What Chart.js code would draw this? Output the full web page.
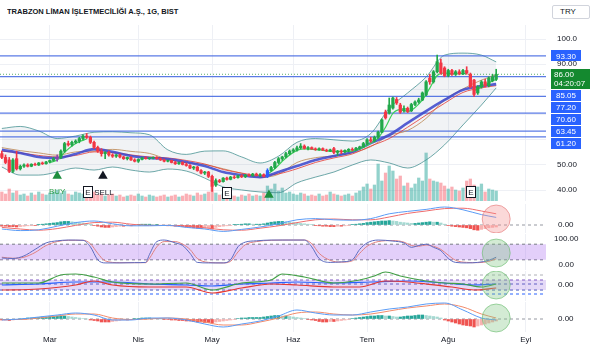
<!DOCTYPE html>
<html><head><meta charset="utf-8">
<script src="https://cdn.jsdelivr.net/npm/chart.js@4.4.1/dist/chart.umd.min.js"></script>
<style>
html,body{margin:0;padding:0;background:#fff;width:593px;height:350px;overflow:hidden;font-family:"Liberation Sans",Arial,sans-serif}
canvas{position:absolute;left:0}
#title{position:absolute;left:7px;top:7px;font-weight:bold;font-size:8px;line-height:10px;color:#131722;white-space:nowrap;transform-origin:0 50%;display:inline-block}
#cur{position:absolute;left:552px;top:5px;width:38px;height:14px;border:1px solid #d1d4dc;border-radius:2px;font-size:8px;line-height:12px;color:#131722;box-sizing:border-box;padding-left:7px}
</style></head><body>
<div id="title"></div>
<div id="cur"></div>
<canvas id="c0" width="593" height="176" style="top:25px"></canvas>
<canvas id="c1" width="593" height="29" style="top:204px"></canvas>
<canvas id="c2" width="593" height="36" style="top:234px"></canvas>
<canvas id="c3" width="593" height="30" style="top:271px"></canvas>
<canvas id="c4" width="593" height="48" style="top:302px"></canvas>
<script>
const titleText = 'TRABZON LİMAN İŞLETMECİLİĞİ A.Ş., 1G, BIST';
const currency = 'TRY';
const monthTickIdx = [13,37,57,79,99,121,142];
const monthLabels = ['Mar','Nis','May','Haz','Tem','Ağu','Eyl'];

const open = [54.5,53.0,52.0,47.5,52.5,48.5,49.5,50.0,49.5,50.3,
50.0,50.8,50.5,51.2,51.8,52.5,53.0,55.5,58.5,58.0,
59.0,59.5,60.5,61.5,61.0,59.0,57.0,55.5,54.5,55.0,
54.0,53.5,54.0,53.2,52.5,53.0,52.0,51.5,52.2,52.8,
52.5,52.8,53.0,52.5,52.0,51.5,51.8,51.0,50.5,51.0,
50.2,49.8,48.8,49.2,47.8,46.8,47.2,45.5,42.0,43.8,
43.4,44.8,44.3,45.2,45.0,45.7,45.3,46.0,45.8,46.4,
45.9,46.2,45.5,47.8,49.0,51.0,52.5,53.2,54.5,55.5,
56.0,56.8,57.5,56.6,56.9,56.4,56.1,56.5,55.9,55.6,
56.5,55.0,55.5,55.2,55.8,56.2,56.0,56.7,57.2,58.5,
60.0,59.5,61.0,63.0,71.0,70.6,72.6,76.0,73.8,71.5,
72.5,71.5,74.0,75.0,75.8,77.8,84.5,83.0,87.0,90.5,
88.5,85.5,87.5,86.0,87.0,86.2,87.5,86.0,83.7,78.6,
81.0,83.0,81.5,83.5,84.0];
const high = [55.5,54.0,53.0,52.5,55.5,50.0,50.5,50.5,50.5,50.8,
51.0,51.2,51.5,52.0,53.0,54.0,56.0,59.0,59.5,59.5,
60.0,61.0,62.0,62.5,61.5,59.5,57.5,56.5,55.3,55.5,
54.5,54.2,54.3,53.5,53.2,53.3,52.5,52.5,53.0,53.2,
53.0,53.2,53.3,52.8,52.3,52.0,52.0,51.5,51.2,51.3,
50.8,50.2,49.5,49.5,48.2,47.5,47.5,46.0,44.5,44.3,
45.0,45.2,45.5,45.8,46.0,46.2,46.3,46.5,46.7,46.8,
46.6,46.5,48.5,49.5,51.5,53.0,53.5,55.0,56.0,56.5,
57.5,58.5,58.0,57.3,57.2,56.8,56.8,56.8,56.3,56.3,
57.0,55.8,56.0,56.0,56.5,56.8,57.0,57.5,59.0,60.5,
61.0,61.5,63.5,68.3,71.8,76.6,77.0,76.8,74.5,73.5,
73.0,74.5,75.5,76.5,79.0,83.5,86.0,87.5,93.6,92.0,
89.0,88.0,88.0,87.5,87.8,88.0,89.0,86.5,84.0,81.5,
83.5,84.0,85.0,86.0,88.0];
const low = [52.5,50.5,47.0,47.0,48.0,48.0,49.0,49.2,49.3,49.8,
49.8,50.2,50.3,50.8,51.5,51.5,52.5,55.0,57.5,57.5,
58.5,58.8,60.0,60.5,58.5,56.5,55.0,53.5,52.5,53.5,
53.0,53.0,52.8,52.2,52.0,51.8,51.2,51.0,52.0,52.3,
52.2,52.4,52.3,51.8,51.2,51.2,50.8,50.2,50.2,50.0,
49.5,48.5,48.2,47.5,46.5,46.2,45.0,39.5,41.5,43.0,
43.2,44.0,44.1,44.6,44.8,45.0,45.0,45.5,45.5,45.6,
45.4,45.2,45.0,47.5,48.5,50.5,51.8,52.8,54.0,55.0,
55.5,56.3,56.3,56.0,56.2,55.8,55.8,55.7,55.3,55.3,
54.5,53.8,54.5,54.8,55.2,55.6,55.8,56.2,57.0,58.0,
59.0,59.2,60.5,62.8,68.2,70.2,72.2,74.0,70.5,71.0,
70.8,71.2,73.5,74.5,75.5,77.5,82.0,82.5,86.5,86.0,
85.0,85.0,85.5,85.5,85.8,85.8,86.0,80.5,77.2,78.0,
80.5,81.0,81.0,83.0,83.5];
const close = [53.0,51.0,47.5,52.0,48.5,49.5,50.0,49.5,50.3,50.0,
50.8,50.5,51.2,51.8,52.5,53.0,55.5,58.5,58.0,59.0,
59.5,60.5,61.5,61.0,59.0,57.0,55.5,54.5,55.0,54.0,
53.5,54.0,53.2,52.5,53.0,52.0,51.5,52.2,52.8,52.5,
52.8,53.0,52.5,52.0,51.5,51.8,51.0,50.5,51.0,50.2,
49.8,48.8,49.2,47.8,46.8,47.2,45.5,41.5,43.8,43.4,
44.8,44.3,45.2,45.0,45.7,45.3,46.0,45.8,46.4,45.9,
46.2,45.5,47.8,49.0,51.0,52.5,53.2,54.5,55.5,56.0,
56.8,57.5,56.6,56.9,56.4,56.1,56.5,55.9,55.6,56.0,
55.0,55.5,55.2,55.8,56.2,56.0,56.7,57.2,58.5,60.0,
59.5,61.0,63.0,67.9,68.7,73.8,76.6,74.6,71.0,72.5,
71.3,74.0,75.0,75.8,78.6,83.0,83.0,87.0,91.0,86.5,
85.5,87.5,86.0,87.0,86.2,87.5,86.5,81.0,78.0,81.0,
83.0,81.5,84.5,85.0,86.0];
const volume = [9,7,12,8,10,6,7,5,8,6,9,7,6,8,
9,11,8,10,7,6,9,8,7,10,8,9,6,7,
5,6,7,5,6,4,5,6,5,7,5,4,6,5,
4,5,6,4,5,6,4,5,7,6,5,8,6,7,
9,14,8,6,7,5,6,5,4,6,5,7,5,6,
5,8,15,12,17,10,13,8,9,7,6,8,7,5,
6,5,7,5,6,9,7,6,5,6,7,5,8,10,
14,17,12,16,37,20,28,35,30,22,25,15,18,13,
17,23,20,48,22,20,19,18,15,12,14,11,10,13,
20,22,16,14,17,9,12,11,10];
const candleTint = {15:'#8e44ad', 72:'#2962ff'};

const levels = [93.30,85.05,77.20,70.60,63.45,61.20];
const lastPrice = 86.00;
const countdown = '04:20:07';

const sampleIdx = [0,5,10,15,20,25,30,35,40,45,50,55,60,65,70,75,80,85,90,95,100,105,110,115,120,125,130,134];
const bbUpper = [64.5,65.3,63.5,60.5,61.5,63.0,63.2,62.8,62.0,56.0,54.2,55.5,55.6,53.2,50.8,53.5,59.0,60.5,60.0,59.5,62.5,72.5,78.6,84.9,93.6,94.4,93.6,90.9];
const bbLower = [49.2,46.0,46.0,47.2,48.8,48.0,49.2,48.0,47.2,48.4,47.6,44.8,41.3,40.1,39.3,39.0,42.9,45.2,47.2,50.0,52.0,50.8,48.8,52.0,58.0,65.9,73.8,80.6];
const bbBasis = [56.9,55.7,54.8,53.9,55.2,55.5,56.2,55.4,54.6,52.2,50.9,50.2,48.5,46.7,45.1,46.3,51.0,52.9,53.6,54.8,57.3,61.7,63.7,68.5,75.8,80.2,83.7,85.8];
const emaBlue = [56.0,54.8,53.2,52.8,54.4,56.3,55.2,53.6,52.8,52.4,51.2,49.6,47.2,46.0,45.2,47.2,49.6,52.0,53.6,55.2,58.7,61.9,66.7,71.4,75.8,79.8,81.3,82.1];
const maRed = [55.5,54.8,53.8,53.2,53.8,55.2,55.0,54.0,53.2,52.8,51.8,50.4,48.2,46.8,45.8,46.5,48.5,51.0,52.8,54.4,57.5,60.5,65.0,69.8,74.5,78.8,80.6,81.5];
const trendIdx = [13,15,17,19,21,23,24,72,74,76,78,80,82,86,90,94,97,100,102,104,106,108,110,112,114,116,118,120,122,124,126,127,128,130,132,134];
const trendVal = [51.0,52.0,55.0,57.5,59.3,60.3,null,46.3,48.5,51.5,54.0,55.8,56.4,56.0,55.4,55.4,56.4,58.6,60.8,65.0,70.5,72.0,71.2,72.8,75.8,80.5,85.5,86.5,86.3,86.2,86.3,null,79.5,81.0,82.6,84.0];

const buyMarks = [{i:15,p:45.6},{i:72.4,p:38.1}];
const sellMarks = [{i:27.4,p:45.6}];
const earnMarks = [{i:23.4,p:39.1},{i:61.0,p:38.7},{i:127.2,p:39.3}];

const macdLine = [-1.0,-1.4,-1.2,-0.3,0.6,1.0,0.3,-0.2,-0.2,-0.1,-0.6,-1.0,-1.6,-1.1,-0.5,0.3,1.3,1.6,1.3,1.2,1.6,2.8,3.4,3.9,4.5,3.8,2.6,1.9];
const macdSignal = [-0.6,-1.0,-1.3,-0.9,-0.1,0.6,0.7,0.2,-0.1,-0.1,-0.3,-0.7,-1.2,-1.3,-0.8,-0.2,0.6,1.3,1.5,1.3,1.3,2.0,2.9,3.5,4.1,4.2,3.5,2.8];
const macdHist = [-0.3,-0.3,-0.4,-0.4,-0.5,-0.4,-0.3,-0.2,-0.1,-0.1,
0.1,0.2,0.3,0.4,0.5,0.6,0.8,0.9,0.9,0.8,
0.7,0.6,0.5,0.3,0.2,-0.1,-0.3,-0.5,-0.6,-0.6,
-0.5,-0.4,-0.3,-0.3,-0.2,-0.2,-0.1,0.1,0.2,0.2,
0.2,0.1,0.1,-0.1,-0.1,-0.2,-0.2,-0.3,-0.3,-0.4,
-0.5,-0.6,-0.7,-0.8,-0.9,-0.8,-0.7,-1.0,-0.6,-0.4,
-0.3,-0.2,-0.1,0.1,0.1,0.2,0.3,0.3,0.2,0.2,
0.2,0.3,0.5,0.7,0.8,0.9,0.9,0.8,0.7,0.6,
0.5,0.4,0.3,0.2,0.1,-0.1,-0.2,-0.3,-0.3,-0.4,
-0.4,-0.3,-0.3,-0.2,-0.1,0.1,0.2,0.3,0.4,0.6,
0.7,0.8,0.9,1.0,1.0,1.1,1.0,0.9,0.7,0.6,
0.5,0.4,0.4,0.5,0.6,0.7,0.8,0.7,0.7,0.5,
0.2,-0.1,-0.3,-0.4,-0.5,-0.6,-0.7,-0.9,-1.2,-1.3,
-1.1,-0.9,-0.7,-0.6,-0.5];

const stochIdx = [0,3,6,9,12,15,18,22,24,26,28,32,36,39,40,42,44,47,49,51,53,56,60,62,64,66,69,73,79,82,84,86,89,92,95,97,99,102,106,109,111,113,115,117,119,121,123,126,129,132,134];
const stochK = [27,25,35,60,85,93,96,95,70,20,8,8,9,10,40,90,96,85,75,45,10,8,8,20,70,88,93,96,96,96,70,25,10,12,20,60,85,96,92,85,68,75,80,68,55,25,10,8,10,18,30];
const stochD = [30,26,30,48,75,90,95,95,82,45,16,9,9,9,25,70,90,90,80,60,25,10,8,14,50,78,90,95,96,96,82,45,18,11,16,45,72,90,94,88,75,72,77,72,60,38,18,10,9,14,24];

const dmiGreenIdx = [0,10,16,20,25,30,40,50,57,65,73,76,82,90,97,101,104,108,115,120,125,130,134];
const dmiGreen = [2,2,10,11,8,3,1,2,-5,2,5,11,8,2,5,9,13,9,4,2,1,-2,1];
const dmiRedIdx = [0,10,20,25,30,40,50,57,65,73,80,90,97,104,110,115,122,128,134];
const dmiRed = [-5,-4,0,4,0,-2,-2,-8,-3,1,0,-2,-2,4,3,1,-2,-5,-3];
const dmiBlueIdx = [0,10,20,30,40,50,57,65,73,80,90,100,110,120,128,134];
const dmiBlue = [0,1,3,3,1,0,-1,1,2,3,2,3,4,2,0,1];

const oscFast = [-1,0,2,4,6,4,-1,-1,1,1,-1,-5,-8,-5,-2,3,9,6,4,4,7,10,12,15,16,9,1,-1];
const oscSlow = [-0.5,-0.5,1,3,5,5,1,-0.5,0,1,0,-3,-6,-6,-3,1,6,7,5,4,5,8,11,13,15,12,5,1];
const oscHist = [-1,-1,-1.5,-1,-0.5,0,0.5,1,1,1.5,
1.5,2,2,2.5,2.5,3,3,3,2.5,2,
1.5,1,0.5,0,-1,-1.5,-2,-3,-3,-3,
-2.5,-2,-1.5,-1,-1,-0.5,0.5,0.5,1,1,
1,0.5,0.5,0,-0.5,-0.5,-1,-1,-1.5,-1.5,
-2,-2,-2.5,-3,-3,-3.5,-3.5,-4,-3,-2.5,
-2,-1.5,-1,-0.5,0.5,1,1,1.5,1.5,1.5,
1.5,2,2.5,3,3.5,3.5,3,3,2.5,2,
1.5,1,0.5,-0.5,-1,-1.5,-2.5,-3,-3,-2.5,
-2.5,-2,-1.5,-1,-0.5,0.5,1,1.5,2,2.5,
3,3,3.5,3.5,3,3,2.5,2,2,2.5,
3,3,3.5,4,4,3.5,3,2.5,2,1,
-1,-2,-3,-4,-5,-6,-6.5,-7,-8,-7,
-6,-5,-4,-3,-2];

const signalCircles = [{panel:1,i:134,v:1.5,kind:'bear'},{panel:2,i:134,v:46,kind:'bull'},{panel:3,i:134,v:0,kind:'bull'},{panel:4,i:134,v:1,kind:'bull'}];

// ---------- rendering ----------
document.getElementById('title').textContent = titleText;
document.getElementById('cur').textContent = currency;
const t = document.getElementById('title');
t.style.transform = 'scaleX(' + (171 / t.offsetWidth) + ')';

const FONT = '"Liberation Sans", Arial, sans-serif';
Chart.defaults.font.family = FONT;
Chart.defaults.font.size = 8;
const XMIN = -0.5, XMAX = 147.5;
const UP = '#22a84a', DOWN = '#f23645';
const idx = close.map((_, i) => i);
const candleColor = idx.map(i => candleTint[i] || (close[i] >= open[i] ? UP : DOWN));
const volColor = idx.map(i => close[i] >= open[i] ? 'rgba(38,166,154,0.5)' : 'rgba(242,54,69,0.4)');

function pts(xs, ys) { return xs.map((x, k) => ({x, y: ys[k]})); }
function line(data, color, width, order, extra) {
  return Object.assign({type:'line', data, borderColor:color, borderWidth:width, pointRadius:0, fill:false,
    cubicInterpolationMode:'monotone', spanGaps:false, order}, extra || {});
}
function hline(v, color, dash, order, extra) {
  return line([{x:XMIN,y:v},{x:XMAX,y:v}], color, 1, order, Object.assign({borderDash: dash || []}, extra || {}));
}
function histColors(arr) {
  return arr.map((v, i) => { const p = i ? arr[i-1] : 0;
    if (v >= 0) return v >= p ? '#26a69a' : '#a5d9d2';
    return v <= p ? '#ef5350' : '#f8b3b1'; });
}
function circle(panel) {
  return signalCircles.filter(c => c.panel === panel).map(c => ({type:'scatter', data:[{x:c.i, y:c.v}], pointRadius:14,
    pointStyle:'circle', clip:false, order:0,
    backgroundColor: c.kind === 'bear' ? 'rgba(244,143,143,0.35)' : 'rgba(129,199,132,0.35)',
    borderColor: c.kind === 'bear' ? 'rgba(229,115,115,0.6)' : 'rgba(102,187,106,0.6)', borderWidth:1}));
}
function xScale(show) {
  return {type:'linear', min:XMIN, max:XMAX, offset:false,
    afterBuildTicks(s) { s.ticks = monthTickIdx.map(v => ({value:v})); },
    afterFit(s) { s.height = show ? 18 : 0; },
    grid:{color:'#eef0f5', drawTicks:false, offset:false}, border:{display:false},
    ticks:{display:show, autoSkip:false, maxRotation:0, padding:3, color:'#131722', font:{size:8},
      callback:(v, i) => monthLabels[i]}};
}
function yScale(min, max, tickVals, labelFn, offset, gridOn) {
  return {position:'right', min, max,
    afterBuildTicks(s) { s.ticks = tickVals.map(v => ({value:v})); },
    afterFit(s) { s.width = 47; },
    grid:{display:true, color: gridOn ? '#eef0f5' : 'rgba(0,0,0,0)', drawTicks:true, tickLength:offset, tickColor:'rgba(0,0,0,0)'},
    border:{display:false},
    ticks:{padding:0, crossAlign:'center', color:'#131722', font:{size:8, lineHeight:0}, callback:(v) => labelFn(v)}};
}
const common = {responsive:false, animation:false, devicePixelRatio:1, events:[],
  layout:{padding:0, autoPadding:false}, plugins:{legend:{display:false}, tooltip:{enabled:false}}};

const overlay = {
  id:'overlay',
  afterDraw(chart) {
    const {ctx, scales:{x, y}} = chart;
    ctx.save();
    ctx.font = '8px ' + FONT; ctx.textAlign = 'center'; ctx.textBaseline = 'middle';
    earnMarks.forEach(m => {
      const px = Math.round(x.getPixelForValue(m.i)), py = Math.round(y.getPixelForValue(m.p));
      ctx.fillStyle = '#fff'; ctx.fillRect(px-5, py-6, 10, 12);
      ctx.strokeStyle = '#131722'; ctx.lineWidth = 1; ctx.strokeRect(px-4.5, py-5.5, 9, 11);
      ctx.fillStyle = '#131722'; ctx.fillText('E', px, py+0.5);
    });
    ctx.fillStyle = '#2e9e4a';
    ctx.fillText('BUY', x.getPixelForValue(buyMarks[0].i), y.getPixelForValue(39.4));
    ctx.fillStyle = '#131722';
    sellMarks.forEach(m => ctx.fillText('SELL', x.getPixelForValue(m.i) + 1, y.getPixelForValue(39.1)));
    // right-side price labels
    const L = 551;
    const py93 = y.getPixelForValue(levels[0]);
    ctx.fillStyle = '#2962ff'; ctx.fillRect(L, Math.round(py93 - 5.5), 30, 11);
    ctx.fillStyle = '#fff'; ctx.fillText(levels[0].toFixed(2), L + 15, py93 + 0.5);
    const pyLast = y.getPixelForValue(lastPrice);
    const gTop = Math.round(pyLast - 5.5);
    ctx.fillStyle = '#14892f'; ctx.fillRect(L, gTop, 39, 20);
    ctx.fillStyle = '#fff'; ctx.textAlign = 'left';
    ctx.fillText(lastPrice.toFixed(2), L + 3, gTop + 5.5);
    ctx.fillText(countdown, L + 3, gTop + 14.5);
    ctx.textAlign = 'center';
    levels.slice(1).forEach((lv, k) => {
      const top = gTop + 21 + k * 12;
      ctx.fillStyle = '#2962ff'; ctx.fillRect(L, top, 30, 11);
      ctx.fillStyle = '#fff'; ctx.fillText(lv.toFixed(2), L + 15, top + 6);
    });
    ctx.restore();
  }
};

const mainSets = [
  {type:'scatter', data: buyMarks.map(m => ({x:m.i, y:m.p})), pointStyle:'triangle', pointRadius:5.5,
    backgroundColor:'#1e8e3e', borderWidth:0, order:0},
  {type:'scatter', data: sellMarks.map(m => ({x:m.i, y:m.p})), pointStyle:'triangle', pointRadius:5.5,
    backgroundColor:'#131722', borderWidth:0, order:0},
  {type:'bar', data: idx.map(i => ({x:i, y:[open[i], close[i]]})), backgroundColor:candleColor,
    barThickness:2.6, grouped:false, borderWidth:0, order:1},
  {type:'bar', data: idx.map(i => ({x:i, y:[low[i], high[i]]})), backgroundColor:candleColor,
    barThickness:1, grouped:false, borderWidth:0, order:2},
  line(pts(trendIdx, trendVal), '#3ccf5a', 1.2, 3),
  line(pts(sampleIdx, emaBlue), 'rgba(58,68,205,0.85)', 2.6, 4),
  line(pts(sampleIdx, maRed), 'rgba(229,57,53,0.8)', 1, 5),
  line(pts(sampleIdx, bbBasis), 'rgba(190,140,90,0.85)', 1, 6),
  hline(lastPrice, 'rgba(20,137,47,0.7)', [1,2], 7),
  ...levels.map(lv => hline(lv, 'rgba(62,100,225,0.85)', [], 8, {borderWidth:1.3})),
  line(pts(sampleIdx, bbUpper), 'rgba(60,140,140,0.75)', 1, 9, {fill:'+1', backgroundColor:'rgba(96,125,139,0.09)'}),
  line(pts(sampleIdx, bbLower), 'rgba(60,140,140,0.75)', 1, 9),
  {type:'bar', yAxisID:'yv', data: idx.map(i => ({x:i, y:volume[i]})), backgroundColor:volColor,
    barThickness:2.6, grouped:false, borderWidth:0, order:20}
];
const mainLabels = {100:'100.0', 90:'90.00', 50:'50.00', 40:'40.00'};
new Chart(document.getElementById('c0'), {
  type:'bar', data:{datasets: mainSets},
  options: Object.assign({}, common, {scales:{
    x: xScale(false),
    y: yScale(35.714, 105.556, [40,50,60,70,80,90,100], v => mainLabels[v] || '', 11, true),
    yv: {display:false, min:0, max:176}
  }}), plugins:[overlay]
});

function panel(id, ymin, ymax, tickVals, labelFn, pad, datasets, showX) {
  new Chart(document.getElementById(id), {type:'line', data:{datasets},
    options: Object.assign({}, common, {scales:{x: xScale(showX), y: yScale(ymin, ymax, tickVals, labelFn, pad, false)}})});
}
const zeroLbl = v => v === 0 ? '0.00' : (v === 100 ? '100.00' : '');

panel('c1', -2, 5.25, [0], zeroLbl, 12, [
  ...circle(1),
  line(pts(sampleIdx, macdLine), '#5b9cf6', 1, 1),
  line(pts(sampleIdx, macdSignal), '#ef6c6c', 1, 2),
  {type:'bar', data: idx.map(i => ({x:i, y:macdHist[i]})), backgroundColor: histColors(macdHist), barThickness:2.6, borderWidth:0, order:3},
  hline(0, '#9598a1', [3,3], 4)
], false);

panel('c2', -19.23, 119.23, [0,100], zeroLbl, 8, [
  ...circle(2),
  line(pts(stochIdx, stochK), '#5c6bc0', 1, 1),
  line(pts(stochIdx, stochD), '#e08080', 1, 2),
  hline(80, '#787b86', [3,3], 3, {fill:'+1', backgroundColor:'rgba(170,110,240,0.33)'}),
  hline(20, '#787b86', [3,3], 3)
], false);

panel('c3', -16, 14, [0], zeroLbl, 12, [
  ...circle(3),
  line(pts(dmiGreenIdx, dmiGreen), '#43a047', 1.2, 1),
  line(pts(dmiRedIdx, dmiRed), '#e53935', 1.2, 2),
  line(pts(dmiBlueIdx, dmiBlue), '#2962ff', 1.2, 3),
  hline(10, 'rgba(120,123,134,0.6)', [3,3], 4),
  hline(5, '#7e57c2', [3,3], 4, {fill:'+1', backgroundColor:'rgba(170,130,230,0.3)'}),
  hline(-5, '#3f51b5', [3,3], 4),
  hline(1, '#3f51b5', [3,3], 4),
  hline(-9, '#2962ff', [3,3], 4)
], false);

panel('c4', -13, 17, [0], zeroLbl, 12, [
  ...circle(4),
  line(pts(sampleIdx, oscFast), '#5b9cf6', 1, 1),
  line(pts(sampleIdx, oscSlow), '#f28b6b', 1, 2),
  {type:'bar', data: idx.map(i => ({x:i, y:oscHist[i]})), backgroundColor: histColors(oscHist), barThickness:2.6, borderWidth:0, order:3},
  hline(0, '#9598a1', [3,3], 4)
], true);
</script>
</body></html>
